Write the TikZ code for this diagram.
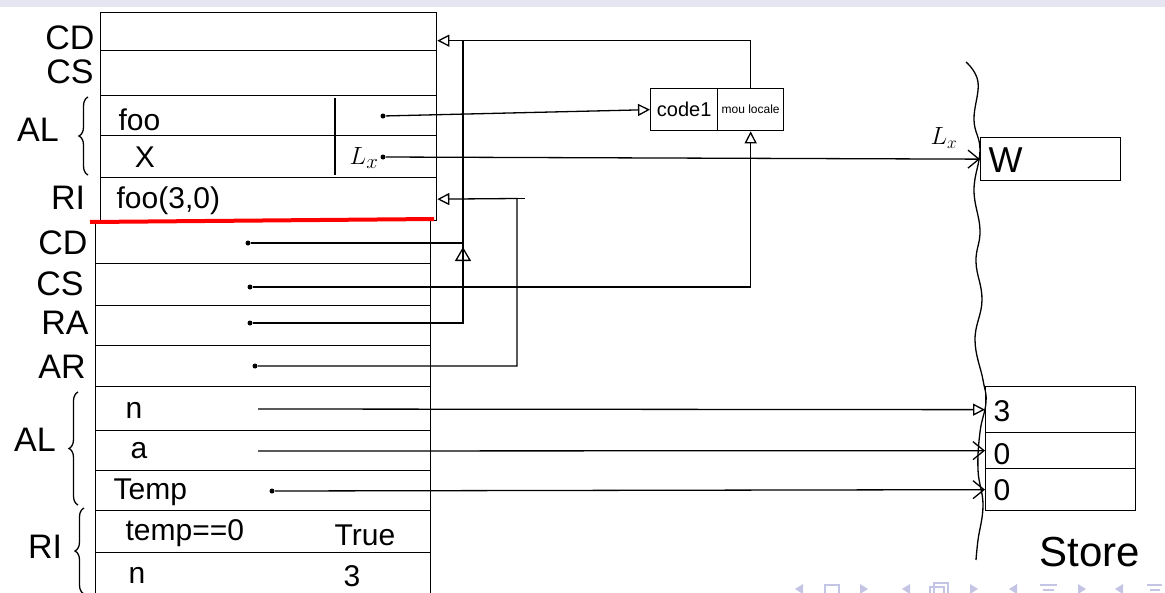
\documentclass[tikz,border=0pt]{standalone}
\usepackage{fontspec}
\setmainfont{Liberation Sans}
\usetikzlibrary{arrows.meta,decorations.pathreplacing,decorations.markings,calc}
\definecolor{navcol}{HTML}{C4C4E4}
\definecolor{barcol}{HTML}{E6E6F2}
\begin{document}
\begin{tikzpicture}[x=1pt,y=-1pt,line width=1.3pt,
  row/.style={draw,anchor=north west,inner sep=0pt,minimum width=#1},
  biglab/.style={font=\fontsize{34}{36}\selectfont,inner sep=0pt},
  celltxt/.style={font=\fontsize{30}{32}\selectfont,inner sep=0pt,anchor=west},
  ctxt/.style={font=\fontsize{30}{32}\selectfont,inner sep=0pt},
  small/.style={font=\fontsize{#1}{#1}\selectfont,inner sep=0pt},
  tri/.style={-{Triangle[open,length=12pt,width=12pt]}},
  barb/.style={-{Straight Barb[length=11pt,width=18pt]}},
  brc/.style={decorate,decoration={brace,amplitude=9pt}},
  dot/.style={fill,circle,inner sep=0pt,minimum size=5pt}]
\useasboundingbox (0,0) rectangle (1165,592);
\clip (0,0) rectangle (1165,592);
\fill[barcol] (0,0) rectangle (1165,7);

% ---------- frame 1 ----------
\node[row=336pt,minimum height=38pt] (f1cd)  at (100,12)  {};
\node[row=336pt,minimum height=45pt] (f1cs)  at (100,50)  {};
\node[row=336pt,minimum height=40pt] (f1foo) at (100,95)  {};
\node[row=336pt,minimum height=42pt] (f1x)   at (100,135) {};
\node[row=336pt,minimum height=43pt] (f1ri)  at (100,177) {};
\draw (335,98) -- (335,175);

% ---------- frame 2 ----------
\node[row=335pt,minimum height=43pt] (f2cd)   at (95,220) {};
\node[row=335pt,minimum height=42pt] (f2cs)   at (95,263) {};
\node[row=335pt,minimum height=40pt] (f2ra)   at (95,305) {};
\node[row=335pt,minimum height=41pt] (f2ar)   at (95,345) {};
\node[row=335pt,minimum height=44pt] (f2n)    at (95,386) {};
\node[row=335pt,minimum height=40pt] (f2a)    at (95,430) {};
\node[row=335pt,minimum height=40pt] (f2temp) at (95,470) {};
\node[row=335pt,minimum height=42pt] (f2test) at (95,510) {};
\node[row=335pt,minimum height=50pt] (f2nn)   at (95,552) {};
\draw[red,line width=4pt] (90,222) -- (434,219);

% ---------- left labels ----------
\node[biglab] (l1cd) at (70,38)  {CD};
\node[biglab] (l1cs) at (70,72)  {CS};
\node[biglab] (l1al) at (38,130) {AL};
\node[biglab] (l1ri) at (68,198) {RI};
\draw[brc] (88,175) -- (88,97);
\node[biglab] (l2cd) at (63,243) {CD};
\node[biglab] (l2cs) at (60,284) {CS};
\node[biglab] (l2ra) at (65,323) {RA};
\node[biglab] (l2ar) at (62,367) {AR};
\node[biglab] (l2al) at (35,440) {AL};
\draw[brc] (78,505) -- (78,392);
\node[biglab] (l2ri) at (45,547) {RI};
\draw[brc] (84,594) -- (84,508);

% ---------- cell texts ----------
\node[celltxt] (tfoo)  at (118,120) {foo};
\node[ctxt]    (tx)    at (145,157) {X};
\node[ctxt]    (tlx)   at (364,158) {$L_x$};
\node[celltxt] (tcall) at (116,201) {foo(3,0)};
\node[celltxt] (tn)    at (125,410) {n};
\node[celltxt] (ta)    at (130,451) {a};
\node[celltxt] (ttemp) at (113,492) {Temp};
\node[celltxt] (ttest) at (125,533) {temp==0};
\node[ctxt]    (ttrue) at (365,535) {True};
\node[celltxt] (tn2)   at (128,575) {n};
\node[ctxt]    (t3)    at (352,576) {3};

% ---------- closure box ----------
\node[draw,anchor=north west,inner sep=0pt,minimum width=67pt,minimum height=42pt,small=20] (code1) at (650,88) {code1};
\node[draw,anchor=north west,inner sep=0pt,minimum width=66pt,minimum height=42pt,small=12] (loc) at (717,88) {mou locale};

% ---------- store ----------
\draw plot[smooth,tension=0.7] coordinates {(966,62) (978,82) (974,120) (980,150) (974,190) (980,230) (976,262) (982,300) (975,340) (983,380) (986,402) (980,432) (978,470) (983,505) (978,540) (976,560)};
\node[row=140pt,minimum height=43pt] (W) at (980,137) {};
\node[font=\fontsize{36}{38}\selectfont,inner sep=0pt,anchor=west] (tw) at (988,160) {W};
\node[row=150pt,minimum height=46pt] (s3)  at (985,386) {};
\node[row=150pt,minimum height=36pt] (s0a) at (985,432) {};
\node[row=150pt,minimum height=42pt] (s0b) at (985,468) {};
\node[celltxt] (ts3)  at (993,411) {3};
\node[celltxt] (ts0a) at (993,454) {0};
\node[celltxt] (ts0b) at (993,490) {0};
\node[font=\fontsize{42}{44}\selectfont,inner sep=0pt] (store) at (1090,552) {Store};

% ---------- dots ----------
\node[dot] (dfoo)  at (383,116) {};
\node[dot] (dx)    at (383,157) {};
\node[dot] (dcd)   at (248,243) {};
\node[dot] (dcs)   at (250,287) {};
\node[dot] (dra)   at (250,323) {};
\node[dot] (dar)   at (255,366) {};
\node[dot] (dtemp) at (272,491) {};
\coordinate (sn) at (258,409);
\coordinate (sa) at (258,451);
\coordinate (jtop) at (463,40);
\coordinate (f1cdE) at ([yshift=-9pt]f1cd.east);
\coordinate (aR) at (517,198.5);

% ---------- connectors ----------
\draw[tri] (dfoo) -- (code1.west);
\draw[barb] (dx) -- (W.west);
\node[small=26] (lxs) at (944,138) {$L_x$};
\draw[tri] (loc.north) |- (f1cdE);
\draw (dra) -| (jtop);
\path[decorate,decoration={markings,mark=at position 0.58 with {\arrow[line width=1.3pt]{Triangle[open,length=14pt,width=16pt]}}}] (dra) -| (jtop);
\draw (dcd) -- (dcd -| jtop);
\draw[tri] (dcs) -| (loc.south);
\draw[tri] (dar) -| (aR) -- (f1ri.east);
\draw (aR) -- ++(8,0);
\draw[tri] (sn) -- (s3.west);
\draw[barb] (sa) -- (s0a.west);
\draw[barb] (dtemp) -- (s0b.west);

% ---------- navigation symbols ----------
\begin{scope}[navcol,line width=1.5pt]
\fill (803,584) -- (795,589) -- (803,594) -- cycle;
\draw (825,585) rectangle (839,597);
\fill (860,584) -- (868,589) -- (860,594) -- cycle;
\fill (910,584) -- (902,589) -- (910,594) -- cycle;
\draw (934,583) rectangle (948,595);
\draw (930,587) rectangle (944,599);
\fill (970,584) -- (978,589) -- (970,594) -- cycle;
\fill (1017,584) -- (1009,589) -- (1017,594) -- cycle;
\draw (1040,585) -- (1057,585);
\draw (1043,590) -- (1054,590);
\fill (1078,584) -- (1086,589) -- (1078,594) -- cycle;
\fill (1123,584) -- (1115,589) -- (1123,594) -- cycle;
\draw (1147,585) -- (1162,585);
\draw (1150,590) -- (1160,590);
\end{scope}
\end{tikzpicture}
\end{document}
